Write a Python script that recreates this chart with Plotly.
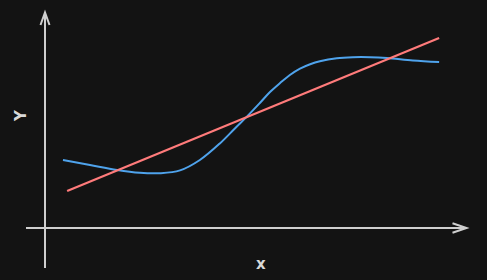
import plotly.graph_objects as go

# ---- data ----
curve_x = [0.48, 1.20, 1.92, 2.53, 3.07, 3.60, 4.13, 4.67, 5.07, 5.39, 5.73,
           6.00, 6.27, 6.53, 6.80, 7.07, 7.33, 7.78, 8.21, 8.67, 9.12, 9.81, 10.51]
curve_y = [3.40, 3.15, 2.90, 2.76, 2.74, 2.88, 3.40, 4.24, 4.99, 5.58, 6.25,
           6.80, 7.25, 7.65, 7.97, 8.19, 8.34, 8.49, 8.54, 8.54, 8.50, 8.38, 8.30]
line_x = [0.59, 10.51]
line_y = [1.85, 9.50]
x_label = "x"
y_label = "Y"

W, H = 487, 280
BG = "#131313"
AX = "#cfcfcf"

fig = go.Figure()
fig.add_trace(go.Scatter(x=curve_x, y=curve_y, mode="lines",
                         line=dict(color="#4fa3ec", width=2, shape="spline", smoothing=1.0),
                         hoverinfo="skip", showlegend=False))
fig.add_trace(go.Scatter(x=line_x, y=line_y, mode="lines",
                         line=dict(color="#ff7b7b", width=2.2),
                         hoverinfo="skip", showlegend=False))

def px(x):
    return x / W

def py(y):
    return 1 - y / H

# axis lines with open arrowheads (pixel positions converted to paper coords)
ox, oy = 45, 228
shapes = [
    dict(type="line", xref="paper", yref="paper", x0=px(26), y0=py(oy), x1=px(466.5), y1=py(oy),
         line=dict(color=AX, width=2)),
    dict(type="line", xref="paper", yref="paper", x0=px(ox), y0=py(268), x1=px(ox), y1=py(12.5),
         line=dict(color=AX, width=2)),
    dict(type="path", xref="paper", yref="paper",
         path=f"M {px(452.5)} {py(223.3)} L {px(466.5)} {py(oy)} L {px(452.5)} {py(232.7)}",
         line=dict(color=AX, width=2)),
    dict(type="path", xref="paper", yref="paper",
         path=f"M {px(40.5)} {py(25)} L {px(ox)} {py(12.5)} L {px(49.5)} {py(25)}",
         line=dict(color=AX, width=2)),
]

annotations = [
    dict(text=f"<b>{x_label}</b>", xref="paper", yref="paper", x=px(261), y=py(264),
         showarrow=False, font=dict(family="DejaVu Sans", size=15, color="#d8d8d8"),
         xanchor="center", yanchor="middle"),
    dict(text=f"<b>{y_label}</b>", xref="paper", yref="paper", x=px(21), y=py(116),
         showarrow=False, textangle=-90, font=dict(family="DejaVu Sans", size=15, color="#d8d8d8"),
         xanchor="center", yanchor="middle"),
]

fig.update_layout(
    width=W, height=H,
    margin=dict(l=0, r=0, t=0, b=0),
    paper_bgcolor=BG, plot_bgcolor=BG,
    xaxis=dict(range=[-1.2, (W - ox) / 37.5], visible=False, fixedrange=True),
    yaxis=dict(range=[(oy - H) / 20, oy / 20], visible=False, fixedrange=True),
    shapes=shapes,
    annotations=annotations,
)

fig.write_html("out.html", config={"displayModeBar": False})
